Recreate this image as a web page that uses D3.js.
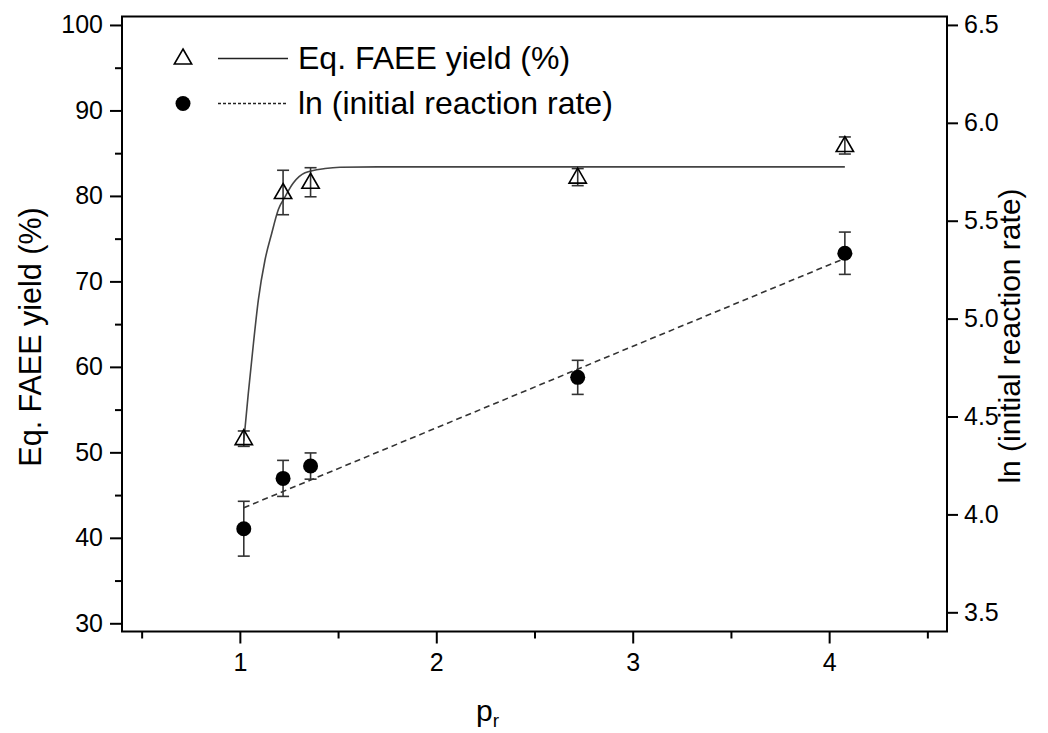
<!DOCTYPE html>
<html>
<head>
<meta charset="utf-8">
<script src="https://cdn.jsdelivr.net/npm/d3@7"></script>
<style>
  html, body { margin: 0; padding: 0; background: #fff; }
  svg { display: block; font-family: "Liberation Sans", Arial, sans-serif; }
</style>
</head>
<body>
<svg id="chart" width="1048" height="733"></svg>
<script>
// ---- data ----
const xTicks = [1, 2, 3, 4];
const xMinorTicks = [0.5, 1.5, 2.5, 3.5, 4.5];
const yLeftTicks = [30, 40, 50, 60, 70, 80, 90, 100];
const yLeftMinor = [35, 45, 55, 65, 75, 85, 95];
const yRightTicks = [3.5, 4.0, 4.5, 5.0, 5.5, 6.0, 6.5];

const pr = [1.02, 1.22, 1.36, 2.72, 4.08];
const yieldVals = [51.6, 80.4, 81.6, 82.2, 85.9];
const yieldErr = [0.9, 2.6, 1.7, 1.0, 1.0];
const lnRate = [3.927, 4.184, 4.247, 4.700, 5.334];
const lnErr = [0.14, 0.092, 0.067, 0.087, 0.108];

// fitted curves
const yieldFitX = [1.02, 1.043, 1.069, 1.094, 1.128, 1.162, 1.196, 1.230, 1.272, 1.332, 1.434, 1.51, 1.70, 2.5, 4.08];
const yieldFitY = [51.3, 56.9, 62.7, 67.8, 72.5, 75.6, 78.4, 79.9, 81.5, 82.7, 83.2, 83.35, 83.4, 83.4, 83.4];
const lnFitX = [1.02, 4.08];
const lnFitY = [4.034, 5.308];

const legendLabels = ["Eq. FAEE yield (%)", "ln (initial reaction rate)"];
const leftTitle = "Eq. FAEE yield (%)";
const rightTitle = "ln (initial reaction rate)";

// ---- layout ----
const L = 122, R = 947, T = 16.5, B = 631.5;
const svg = d3.select("#chart");

const x = d3.scaleLinear().domain([0.4, 4.6]).range([L, R]);
const yL = d3.scaleLinear().domain([29.04, 100.99]).range([B, T]);
const yR = d3.scaleLinear().domain([3.402, 6.543]).range([B, T]);

const tickFont = 25;

// frame
svg.append("rect").attr("x", L).attr("y", T).attr("width", R - L).attr("height", B - T)
  .attr("fill", "none").attr("stroke", "#000").attr("stroke-width", 2);

// axes
function styleAxis(g) {
  g.select(".domain").remove();
  g.selectAll(".tick line").attr("stroke", "#000").attr("stroke-width", 2);
  g.selectAll(".tick text").attr("fill", "#000").style("font-size", tickFont + "px")
    .style("font-family", "'Liberation Sans', Arial, sans-serif");
}

const xAxis = svg.append("g").attr("transform", `translate(0,${B})`)
  .call(d3.axisBottom(x).tickValues(xTicks).tickFormat(d3.format("d")).tickSize(12).tickPadding(10));
styleAxis(xAxis);
const xMinor = svg.append("g").attr("transform", `translate(0,${B})`)
  .call(d3.axisBottom(x).tickValues(xMinorTicks).tickFormat("").tickSize(7));
styleAxis(xMinor);

const yAxisL = svg.append("g").attr("transform", `translate(${L},0)`)
  .call(d3.axisLeft(yL).tickValues(yLeftTicks).tickFormat(d3.format("d")).tickSize(12).tickPadding(7));
styleAxis(yAxisL);
const yMinorL = svg.append("g").attr("transform", `translate(${L},0)`)
  .call(d3.axisLeft(yL).tickValues(yLeftMinor).tickFormat("").tickSize(7));
styleAxis(yMinorL);

const yAxisR = svg.append("g").attr("transform", `translate(${R},0)`)
  .call(d3.axisRight(yR).tickValues(yRightTicks).tickFormat(d3.format(".1f")).tickSize(11).tickPadding(6));
styleAxis(yAxisR);

// titles
svg.append("text").attr("transform", "translate(41,337) rotate(-90)")
  .attr("text-anchor", "middle").style("font-size", "30.5px").text(leftTitle);
svg.append("text").attr("transform", "translate(1020,336) rotate(-90)")
  .attr("text-anchor", "middle").style("font-size", "30px").text(rightTitle);
const xt = svg.append("text").attr("x", 476).attr("y", 721).style("font-size", "30px");
xt.append("tspan").text("p");
xt.append("tspan").attr("dy", 6).style("font-size", "19px").text("r");

// fitted curves
const lineYield = d3.line().x((d, i) => x(yieldFitX[i])).y((d, i) => yL(yieldFitY[i])).curve(d3.curveMonotoneX);
svg.append("path").datum(yieldFitX).attr("d", lineYield)
  .attr("fill", "none").attr("stroke", "#444").attr("stroke-width", 1.6);

const lineLn = d3.line().x((d, i) => x(lnFitX[i])).y((d, i) => yR(lnFitY[i]));
svg.append("path").datum(lnFitX).attr("d", lineLn)
  .attr("fill", "none").attr("stroke", "#333").attr("stroke-width", 1.6)
  .attr("stroke-dasharray", "6,4");

// error bars
function errorBars(vals, errs, yScale, color) {
  const g = svg.append("g").attr("stroke", color).attr("stroke-width", 1.6);
  pr.forEach((p, i) => {
    const cx = x(p), y1 = yScale(vals[i] - errs[i]), y2 = yScale(vals[i] + errs[i]);
    g.append("line").attr("x1", cx).attr("x2", cx).attr("y1", y1).attr("y2", y2);
    g.append("line").attr("x1", cx - 6).attr("x2", cx + 6).attr("y1", y1).attr("y2", y1);
    g.append("line").attr("x1", cx - 6).attr("x2", cx + 6).attr("y1", y2).attr("y2", y2);
  });
}
errorBars(yieldVals, yieldErr, yL, "#333");
errorBars(lnRate, lnErr, yR, "#333");

// markers
const tri = d3.symbol().type(d3.symbolTriangle).size(130);
svg.append("g").selectAll("path").data(pr).join("path")
  .attr("transform", (d, i) => `translate(${x(d)},${yL(yieldVals[i]) + 1})`)
  .attr("d", tri).attr("fill", "none").attr("stroke", "#000").attr("stroke-width", 1.6);

svg.append("g").selectAll("circle").data(pr).join("circle")
  .attr("cx", d => x(d)).attr("cy", (d, i) => yR(lnRate[i])).attr("r", 7.5).attr("fill", "#000");

// legend
const lg = svg.append("g");
lg.append("path").attr("transform", "translate(183,59)").attr("d", tri)
  .attr("fill", "none").attr("stroke", "#000").attr("stroke-width", 1.6);
lg.append("line").attr("x1", 218).attr("x2", 288).attr("y1", 58.5).attr("y2", 58.5)
  .attr("stroke", "#222").attr("stroke-width", 1.4);
lg.append("text").attr("x", 298).attr("y", 69).style("font-size", "32px").text(legendLabels[0]);
lg.append("circle").attr("cx", 183).attr("cy", 103.5).attr("r", 7.5).attr("fill", "#000");
lg.append("line").attr("x1", 218).attr("x2", 288).attr("y1", 103.5).attr("y2", 103.5)
  .attr("stroke", "#222").attr("stroke-width", 1.4).attr("stroke-dasharray", "3,2");
lg.append("text").attr("x", 298).attr("y", 114).style("font-size", "32px").text(legendLabels[1]);
</script>
</body>
</html>
